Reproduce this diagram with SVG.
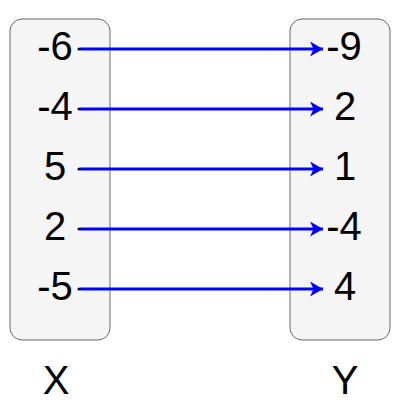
<svg xmlns="http://www.w3.org/2000/svg" width="400" height="400" viewBox="0 0 400 400">
<style>
.box{fill:#f5f5f5;stroke:#666666;stroke-width:1}
.t{font-family:"Liberation Sans",Arial,sans-serif;font-size:40px;fill:#000;text-anchor:middle}
.c{stroke:#0000ff;stroke-width:3;fill:none}
</style>
<defs>
<marker id="ah" markerUnits="userSpaceOnUse" markerWidth="14" markerHeight="16" refX="13" refY="7.5" orient="auto">
<path d="M0,0 L13,7.5 L0,15 L3.5,7.5 Z" fill="#0000ff"/>
</marker>
</defs>
<g id="X">
<rect class="box" x="10" y="19" width="100" height="321" rx="12"/>
<text class="t" x="55" y="60">-6</text>
<text class="t" x="55" y="120">-4</text>
<text class="t" x="55" y="180">5</text>
<text class="t" x="55" y="240">2</text>
<text class="t" x="55" y="300">-5</text>
</g>
<g id="Y">
<rect class="box" x="290" y="19" width="100" height="321" rx="12"/>
<text class="t" x="344" y="60">-9</text>
<text class="t" x="345" y="120">2</text>
<text class="t" x="345" y="180">1</text>
<text class="t" x="344" y="240">-4</text>
<text class="t" x="345" y="300">4</text>
</g>
<g id="labelX"><text class="t" x="56" y="394">X</text></g>
<g id="labelY"><text class="t" x="345" y="394">Y</text></g>
<g id="connectors">
<path class="c" d="M80,49 H323" marker-end="url(#ah)"/>
<path class="c" d="M80,109 H323" marker-end="url(#ah)"/>
<path class="c" d="M80,169 H323" marker-end="url(#ah)"/>
<path class="c" d="M80,229 H323" marker-end="url(#ah)"/>
<path class="c" d="M80,289 H323" marker-end="url(#ah)"/>
<g fill="#000">
<circle cx="79" cy="49" r="1.5"/>
<circle cx="79" cy="109" r="1.5"/>
<circle cx="79" cy="169" r="1.5"/>
<circle cx="79" cy="229" r="1.5"/>
<circle cx="79" cy="289" r="1.5"/>
</g>
</g>
</svg>
